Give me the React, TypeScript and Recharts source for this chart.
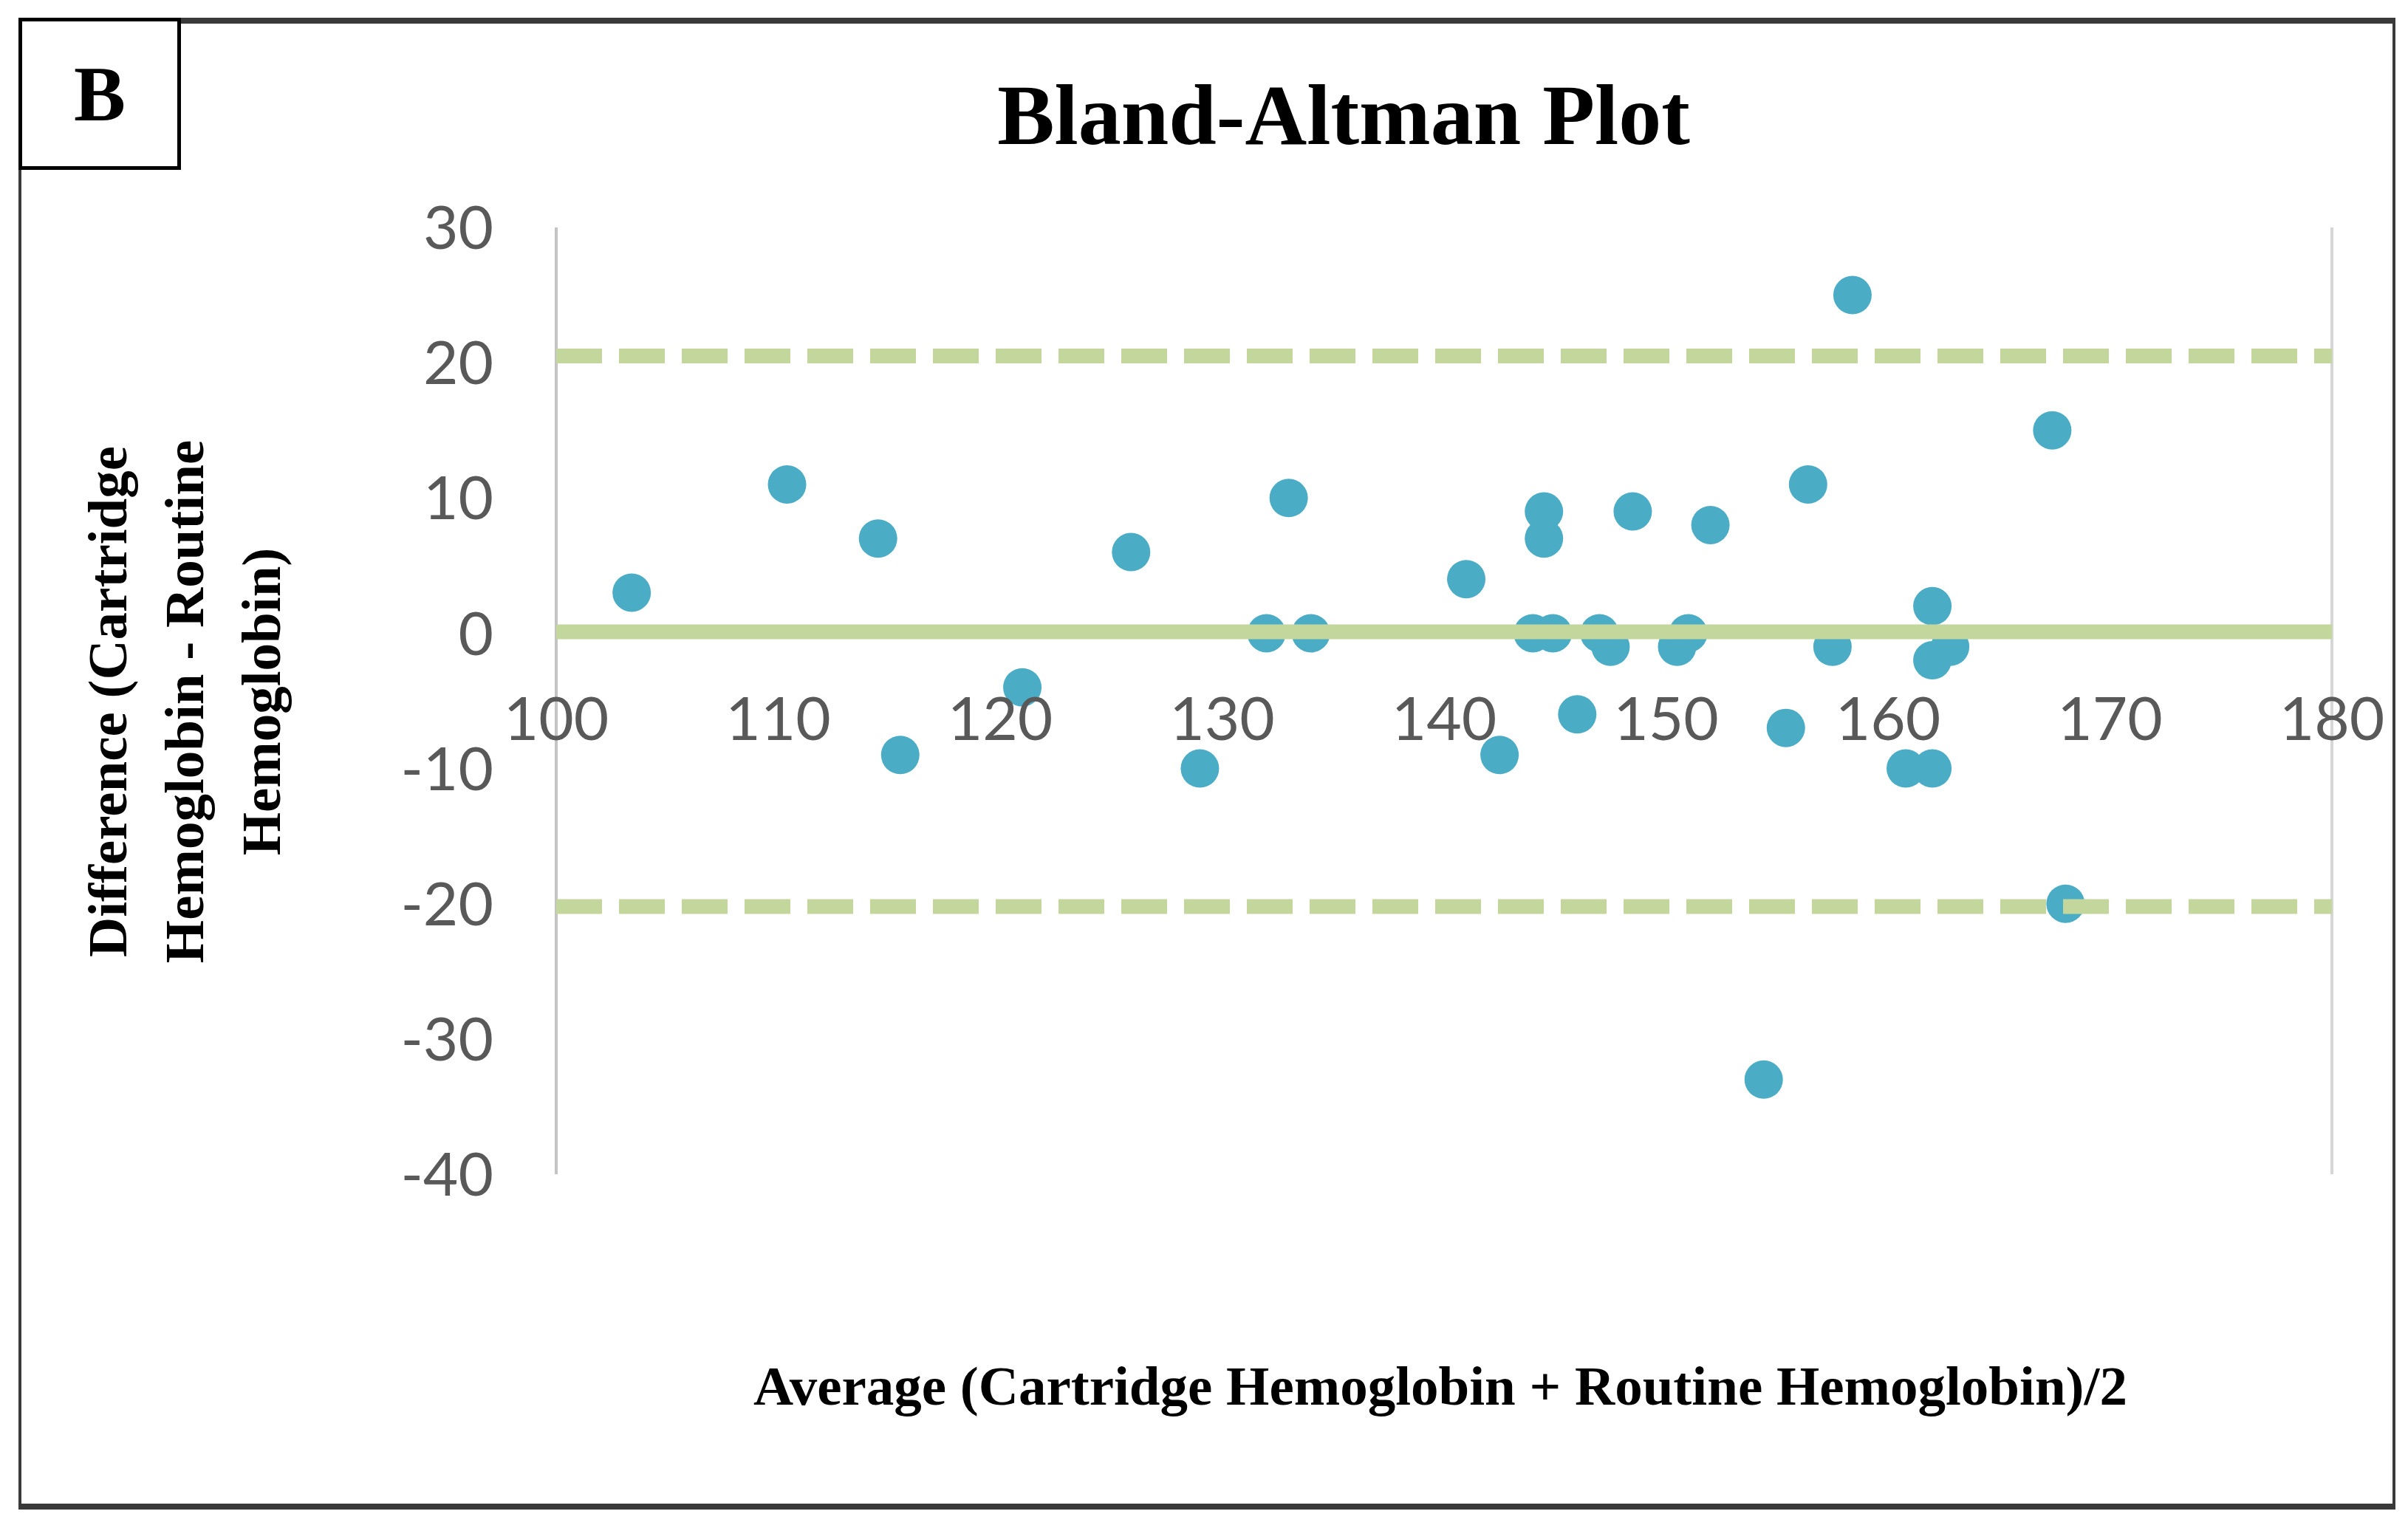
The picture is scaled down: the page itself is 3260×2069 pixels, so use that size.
import { ScatterChart, Scatter, XAxis, YAxis, ReferenceLine } from 'recharts';

// average of the two methods (x) and their difference (y), one entry per sample
const avgValues = [
    103.4, 110.4, 114.5, 115.5, 121.0, 125.9, 129.0, 132.0, 133.0, 134.0,
    141.0, 142.5, 144.0, 144.5, 144.5, 144.9, 146.0, 147.0, 147.5, 148.5,
    150.5, 151.0, 152.0, 154.4, 155.4, 156.4, 157.5, 158.4, 160.8, 162.0,
    162.0, 162.0, 162.8, 167.4, 168.0,
];
const diffValues = [
    3, 11, 7, -9, -4, 6, -10, 0, 10, 0,
    4, -9, 0, 9, 7, 0, -6, 0, -1, 9,
    -1, 0, 8, -33, -7, 11, -1, 25, -10, -10,
    2, -2, -1, 15, -20,
];

const xTicks = [100, 110, 120, 130, 140, 150, 160, 170, 180];
const yTicks = [-40, -30, -20, -10, 0, 10, 20, 30];

// bias and limits of agreement as drawn
const meanDiff = 0.1;
const upperLimit = 20.5;
const lowerLimit = -20.2;
const lineSpan = [100, 180];

const points = avgValues.map((x, i) => ({ x, y: diffValues[i] }));
// the horizontal lines sit on top of the dots in the original, so they are
// drawn as line-only scatter series after the dots
const hLine = (v: number) => lineSpan.map((x) => ({ x, y: v }));

const W = 3260;
const H = 2069;
const LINE_GREEN = '#C3D69B';
const DOT_BLUE = '#4BACC6';
const TICK_GREY = '#595959';
const DASH = '62 23';
const tickFont = 'Lato, "Open Sans", sans-serif';
const serif = '"Liberation Serif", "Times New Roman", serif';

const XTick = (props: any) => {
    const { x, payload } = props;
    // Excel draws these right under the y = 0 crossing, not at the bottom
    return (
        <text x={x} y={970} textAnchor="middle" dominantBaseline="central"
            fill={TICK_GREY} fontSize={82} fontFamily={tickFont}>
            {payload.value}
        </text>
    );
};

const Dot = (props: any) => <circle cx={props.cx} cy={props.cy} r={26} fill={DOT_BLUE} />;
const NoDot = () => <g />;

const App = () => {
    return (
        <div style={{ position: 'relative', width: W, height: H, background: '#fff' }}>
            <style>{'body{margin:0}'}</style>

            {/* outer frame */}
            <div style={{
                position: 'absolute', left: 25, top: 24, width: 3210, height: 2004,
                borderTop: '8px solid #3a3a3a', borderBottom: '8px solid #3a3a3a',
                borderLeft: '4px solid #3a3a3a', borderRight: '4px solid #3a3a3a',
            }} />

            <ScatterChart width={W} height={H}
                margin={{ top: 308, right: 103, bottom: 449, left: 553 }}>
                <XAxis type="number" dataKey="x" domain={[100, 180]} ticks={xTicks}
                    axisLine={false} tickLine={false} height={30} tick={XTick}
                    allowDataOverflow />
                <YAxis type="number" dataKey="y" domain={[-40, 30]} ticks={yTicks}
                    width={200} axisLine={{ stroke: '#c4c4c4', strokeWidth: 4 }}
                    tickLine={false} tickSize={0} tickMargin={85}
                    tick={{ fill: TICK_GREY, fontSize: 82, fontFamily: tickFont }}
                    allowDataOverflow />
                <ReferenceLine x={180} stroke="#d6d6d6" strokeWidth={4} />
                <Scatter data={points} shape={Dot} isAnimationActive={false} />
                <Scatter data={hLine(upperLimit)} shape={NoDot} isAnimationActive={false}
                    line={{ stroke: LINE_GREEN, strokeWidth: 20, strokeDasharray: DASH }} />
                <Scatter data={hLine(meanDiff)} shape={NoDot} isAnimationActive={false}
                    line={{ stroke: LINE_GREEN, strokeWidth: 20 }} />
                <Scatter data={hLine(lowerLimit)} shape={NoDot} isAnimationActive={false}
                    line={{ stroke: LINE_GREEN, strokeWidth: 20, strokeDasharray: DASH }} />
            </ScatterChart>

            {/* panel letter */}
            <div style={{
                position: 'absolute', left: 25, top: 24, width: 210, height: 196,
                border: '5px solid #000', background: '#fff',
                display: 'flex', alignItems: 'center', justifyContent: 'center',
                fontFamily: serif, fontWeight: 'bold', fontSize: 105,
            }}>B</div>

            <div style={{
                position: 'absolute', left: 1819, top: 156, transform: 'translate(-50%, -50%)',
                fontFamily: serif, fontWeight: 'bold', fontSize: 116, whiteSpace: 'nowrap',
            }}>Bland-Altman Plot</div>

            <div style={{
                position: 'absolute', left: 250, top: 950, width: 900,
                transform: 'translate(-50%, -50%) rotate(-90deg)', textAlign: 'center',
                fontFamily: serif, fontWeight: 'bold', fontSize: 75, lineHeight: '104px',
            }}>
                Difference (Cartridge<br />Hemoglobin - Routine<br />Hemoglobin)
            </div>

            <div style={{
                position: 'absolute', left: 1950, top: 1877, transform: 'translate(-50%, -50%)',
                fontFamily: serif, fontWeight: 'bold', fontSize: 75, whiteSpace: 'nowrap',
            }}>Average (Cartridge Hemoglobin + Routine Hemoglobin)/2</div>
        </div>
    );
};

export default App;
